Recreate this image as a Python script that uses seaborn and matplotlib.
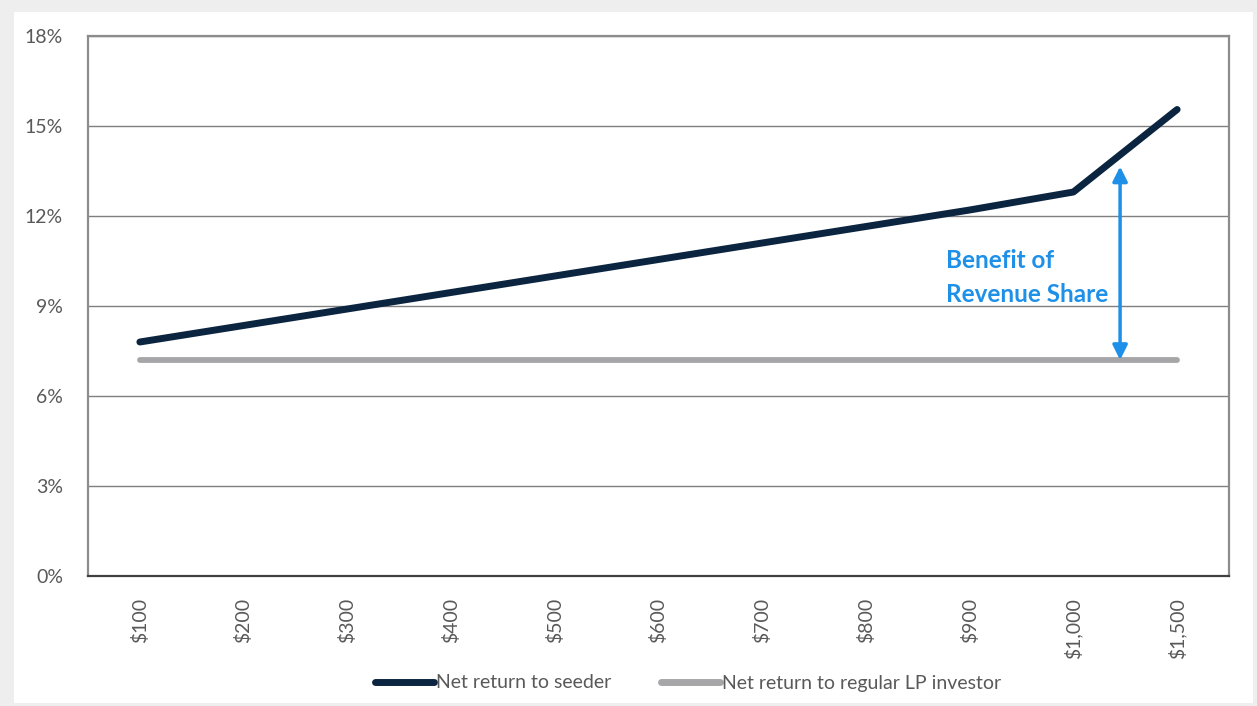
import pandas as pd
import matplotlib.pyplot as plt
import seaborn as sns
from matplotlib.patches import Rectangle
from matplotlib.ticker import FuncFormatter

# Chart data
categories = ['$100', '$200', '$300', '$400', '$500', '$600', '$700',
              '$800', '$900', '$1,000', '$1,500']
seeder = [7.8, 8.35, 8.9, 9.45, 10.0, 10.55, 11.1, 11.65, 12.2, 12.8, 15.55]
lp = [7.2] * len(categories)
series_names = ['Net return to seeder', 'Net return to regular LP investor']

df = pd.DataFrame({
    'Category': categories * 2,
    'Return': seeder + lp,
    'Series': [series_names[0]] * len(categories) + [series_names[1]] * len(categories),
})

sns.set_style('white')
plt.rcParams['font.family'] = ['Lato', 'DejaVu Sans']

fig = plt.figure(figsize=(12.57, 7.06), dpi=100, facecolor='#EEEEEE')
fig.patches.append(Rectangle((14 / 1257, 3 / 706), 1239 / 1257, 691 / 706,
                             transform=fig.transFigure, facecolor='white',
                             edgecolor='none', zorder=-5))
ax = fig.add_axes([88 / 1257, 130 / 706, 1141 / 1257, 540 / 706])
ax.set_zorder(1)

palette = {series_names[0]: '#0B2540', series_names[1]: '#A6A6A8'}
sns.lineplot(data=df, x='Category', y='Return', hue='Series', palette=palette,
             linewidth=5, ax=ax, sort=False, legend=False)
for line in ax.get_lines():
    line.set_solid_capstyle('round')
    line.set_zorder(3)
ax.get_lines()[1].set_linewidth(4.2)

ax.set_xlim(-0.5, len(categories) - 0.5)
ax.set_ylim(0, 18)
ax.set_yticks(range(0, 19, 3))
ax.yaxis.set_major_formatter(FuncFormatter(lambda v, p: f'{v:.0f}%'))
ax.set_xlabel('')
ax.set_ylabel('')
ax.grid(True, axis='y', color='#7F7F7F', linewidth=1)
ax.grid(False, axis='x')
ax.tick_params(axis='x', rotation=90, labelsize=14, colors='#595959', length=0, pad=16)
ax.tick_params(axis='y', labelsize=14, colors='#595959', length=0, pad=18)
for s in ax.spines.values():
    s.set_color('#8C8C8C')
    s.set_linewidth(1.6)
ax.spines['bottom'].set_color('#404040')

# Benefit arrow and label
ax.annotate('', xy=(9.45, 13.65), xytext=(9.45, 7.2),
            arrowprops=dict(arrowstyle='<|-|>', color='#1E90E8', lw=2.5,
                            mutation_scale=22, shrinkA=0, shrinkB=0))
ax.text(7.77, 9.95, 'Benefit of\nRevenue Share', color='#1E90E8', fontsize=17.5,
        fontweight='bold', ha='left', va='center', linespacing=1.55)

handles = [plt.Line2D([], [], color=palette[n], linewidth=5, solid_capstyle='round')
           for n in series_names]
fig.legend(handles, series_names, loc='center', bbox_to_anchor=(688 / 1257, 1 - 683 / 706),
           ncol=2, frameon=False, fontsize=14, labelcolor='#595959',
           handlelength=3.0, handletextpad=0.1, columnspacing=2.6)

fig.savefig('out.png', dpi=100, facecolor=fig.get_facecolor())
